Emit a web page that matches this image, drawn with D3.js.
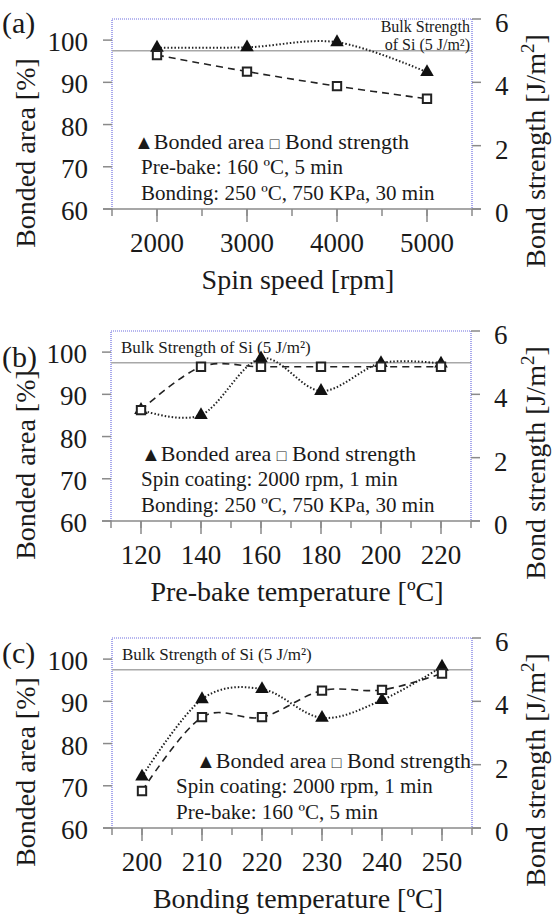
<!DOCTYPE html>
<html>
<head>
<meta charset="utf-8">
<title>Bonded area / bond strength</title>
<script src="https://d3js.org/d3.v7.min.js"></script>
<style>
  body { margin: 0; background: #fff; }
  svg { display: block; }
  text { font-family: "Liberation Serif", "Times New Roman", serif; fill: #1a1a1a; }
</style>
</head>
<body>
<svg width="553" height="918" font-family="Liberation Serif, Times New Roman, serif"></svg>
<script>
// ---- data ----
var spinSpeed = [2000, 3000, 4000, 5000];
var spinArea = [98.2, 98.3, 99.5, 92.4];
var spinStrength = [4.86, 4.34, 3.88, 3.48];

var prebakeTemp = [120, 140, 160, 180, 200, 220];
var prebakeArea = [86.3, 85.1, 98.5, 90.8, 97.4, 97.3];
var prebakeStrength = [3.50, 4.87, 4.87, 4.87, 4.87, 4.87];

var bondTemp = [200, 210, 220, 230, 240, 250];
var bondArea = [72.2, 90.5, 92.9, 86.1, 90.3, 98.2];
var bondStrength = [1.17, 3.50, 3.50, 4.34, 4.36, 4.88];

var areaTicks = [60, 70, 80, 90, 100];
var strengthTicks = [0, 2, 4, 6];
var bulkStrength = 5;

var svg = d3.select("svg");

var panels = [
  { tag: "(a)", tagY: 33, top: 19, left: 112, x: spinSpeed, area: spinArea, strength: spinStrength,
    xDomain: [1500, 5500], major: [2000, 3000, 4000, 5000], minorStep: 500,
    xTitle: "Spin speed [rpm]", bulkTwoLines: true,
    legendX: 134, notesX: 141, notes: ["Pre-bake: 160 ºC, 5 min", "Bonding: 250 ºC, 750 KPa, 30 min"] },
  { tag: "(b)", tagY: 367, top: 331, left: 111, x: prebakeTemp, area: prebakeArea, strength: prebakeStrength,
    xDomain: [110, 230], major: [120, 140, 160, 180, 200, 220], minorStep: 10,
    xTitle: "Pre-bake temperature [ºC]", bulkTwoLines: false,
    legendX: 141, notesX: 141, notes: ["Spin coating: 2000 rpm, 1 min", "Bonding: 250 ºC, 750 KPa, 30 min"] },
  { tag: "(c)", tagY: 663, top: 638, left: 112, x: bondTemp, area: bondArea, strength: bondStrength,
    xDomain: [195, 255], major: [200, 210, 220, 230, 240, 250], minorStep: 5,
    xTitle: "Bonding temperature [ºC]", bulkTwoLines: false,
    legendX: 196, notesX: 176, notes: ["Spin coating: 2000 rpm, 1 min", "Pre-bake: 160 ºC, 5 min"] }
];

var plotW = 360, plotH = 190;
var tickGrey = "#8a8a8a", frameBlue = "#6f6fe0";

panels.forEach(function(p) {
  var left = p.left, right = p.left + plotW, top = p.top, bottom = p.top + plotH;

  var x = d3.scaleLinear().domain(p.xDomain).range([left, right]);
  var yL = d3.scaleLinear().domain([60, 105]).range([bottom, top]);
  var yR = d3.scaleLinear().domain([0, 6]).range([bottom, top]);

  var g = svg.append("g");

  // dotted blue frame: left, top, right
  g.append("path")
      .attr("d", "M" + left + "," + bottom + "V" + top + "H" + right + "V" + bottom)
      .attr("fill", "none")
      .attr("stroke", frameBlue)
      .attr("stroke-width", 1.2)
      .attr("stroke-dasharray", "1,1");

  // bulk strength reference line
  g.append("line")
      .attr("x1", left).attr("x2", right)
      .attr("y1", yR(bulkStrength)).attr("y2", yR(bulkStrength))
      .attr("stroke", "#a8a8a8").attr("stroke-width", 1.5);

  // bottom axis line
  g.append("line")
      .attr("x1", left - 9).attr("x2", right + 9)
      .attr("y1", bottom).attr("y2", bottom)
      .attr("stroke", tickGrey).attr("stroke-width", 1.5);

  // x ticks: minor then major
  var minor = d3.range(p.xDomain[0], p.xDomain[1] + 0.001, p.minorStep);
  g.selectAll(".minor").data(minor).enter().append("line")
      .attr("x1", function(d) { return x(d); }).attr("x2", function(d) { return x(d); })
      .attr("y1", bottom).attr("y2", bottom + 7)
      .attr("stroke", tickGrey).attr("stroke-width", 1.5);
  g.selectAll(".major").data(p.major).enter().append("line")
      .attr("x1", function(d) { return x(d); }).attr("x2", function(d) { return x(d); })
      .attr("y1", bottom).attr("y2", bottom + 13)
      .attr("stroke", tickGrey).attr("stroke-width", 1.5);
  g.selectAll(".xlab").data(p.major).enter().append("text")
      .attr("x", function(d) { return x(d); })
      .attr("y", bottom + 43)
      .attr("text-anchor", "middle")
      .style("font-size", "27px")
      .text(function(d) { return d; });

  // left axis
  g.selectAll(".lt").data(areaTicks).enter().append("line")
      .attr("x1", left - 9).attr("x2", left)
      .attr("y1", function(d) { return yL(d); }).attr("y2", function(d) { return yL(d); })
      .attr("stroke", tickGrey).attr("stroke-width", 1.5);
  g.selectAll(".ll").data(areaTicks).enter().append("text")
      .attr("x", left - 24)
      .attr("y", function(d) { return yL(d) + 11; })
      .attr("text-anchor", "end")
      .style("font-size", "27px")
      .text(function(d) { return d; });

  // right axis
  g.selectAll(".rt").data(strengthTicks).enter().append("line")
      .attr("x1", right).attr("x2", right + 9)
      .attr("y1", function(d) { return yR(d); }).attr("y2", function(d) { return yR(d); })
      .attr("stroke", tickGrey).attr("stroke-width", 1.5);
  g.selectAll(".rl").data(strengthTicks).enter().append("text")
      .attr("x", right + 23)
      .attr("y", function(d) { return yR(d) + 13; })
      .style("font-size", "27px")
      .text(function(d) { return d; });

  // titles
  g.append("text")
      .attr("x", (left + right) / 2 + 6).attr("y", bottom + 80)
      .attr("text-anchor", "middle")
      .style("font-size", "28px")
      .text(p.xTitle);
  g.append("text")
      .attr("transform", "translate(35," + (top + 134) + ") rotate(-90)")
      .attr("text-anchor", "middle")
      .style("font-size", "28px")
      .text("Bonded area [%]");
  var rt = g.append("text")
      .attr("transform", "translate(545," + (top + 132) + ") rotate(-90)")
      .attr("text-anchor", "middle")
      .style("font-size", "28px");
  rt.append("tspan").text("Bond strength [J/m");
  rt.append("tspan").attr("dy", -11).style("font-size", "19px").text("2");
  rt.append("tspan").attr("dy", 11).text("]");

  g.append("text")
      .attr("x", 2).attr("y", p.tagY)
      .style("font-size", "30px")
      .text(p.tag);

  // bulk strength label
  if (p.bulkTwoLines) {
    g.append("text").attr("x", right - 2).attr("y", top + 13)
        .attr("text-anchor", "end").style("font-size", "16px").text("Bulk Strength");
    g.append("text").attr("x", right - 2).attr("y", top + 31)
        .attr("text-anchor", "end").style("font-size", "16px").text("of Si (5 J/m²)");
  } else {
    g.append("text").attr("x", left + 10).attr("y", top + 22)
        .style("font-size", "17px").text("Bulk Strength of Si (5 J/m²)");
  }

  // legend and conditions
  var lg = g.append("text").attr("x", p.legendX).attr("y", bottom - 60).style("font-size", "22px");
  lg.append("tspan").style("font-size", "20px").text("▲");
  lg.append("tspan").text("Bonded area ");
  lg.append("tspan").style("font-size", "16px").text("□");
  lg.append("tspan").text(" Bond strength");
  p.notes.forEach(function(n, i) {
    g.append("text").attr("x", p.notesX).attr("y", bottom - 35 + i * 26)
        .style("font-size", "21px").text(n);
  });

  // series
  var areaPts = p.x.map(function(v, i) { return [x(v), yL(p.area[i])]; });
  var strPts = p.x.map(function(v, i) { return [x(v), yR(p.strength[i])]; });
  var line = d3.line().curve(d3.curveCardinal.tension(0));

  g.append("path").attr("d", line(strPts))
      .attr("fill", "none").attr("stroke", "#222").attr("stroke-width", 1.6)
      .attr("stroke-dasharray", "7,5");
  g.append("path").attr("d", line(areaPts))
      .attr("fill", "none").attr("stroke", "#222").attr("stroke-width", 2)
      .attr("stroke-dasharray", "1.5,2");

  g.selectAll(".tri").data(areaPts).enter().append("path")
      .attr("transform", function(d) { return "translate(" + d[0] + "," + d[1] + ")"; })
      .attr("d", d3.symbol(d3.symbolTriangle, 80))
      .attr("fill", "#111");
  g.selectAll(".sq").data(strPts).enter().append("path")
      .attr("transform", function(d) { return "translate(" + d[0] + "," + d[1] + ")"; })
      .attr("d", d3.symbol(d3.symbolSquare, 70))
      .attr("fill", "#fff").attr("stroke", "#222").attr("stroke-width", 2);
});
</script>
</body>
</html>
